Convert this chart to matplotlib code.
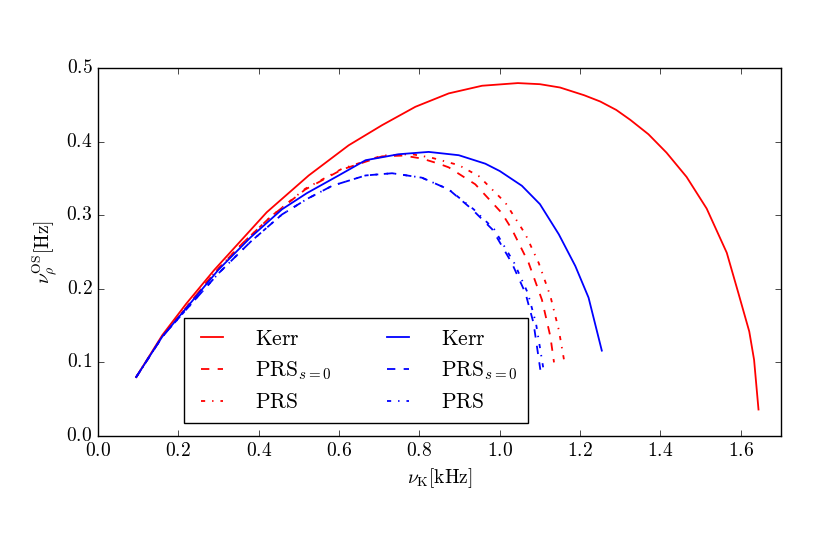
import matplotlib
matplotlib.use("Agg")
import matplotlib.pyplot as plt

plt.style.use("classic")
plt.rcParams["mathtext.fontset"] = "cm"
plt.rcParams["font.family"] = "serif"
plt.rcParams["font.serif"] = ["cmr10", "DejaVu Serif"]
plt.rcParams["axes.formatter.use_mathtext"] = True

# Kerr (red)
kerr_red_x = [0.095, 0.16, 0.22, 0.29, 0.35, 0.42, 0.5245, 0.624, 0.707, 0.79, 0.873, 0.956,
              1.045, 1.10, 1.15, 1.21, 1.25, 1.29, 1.325, 1.37, 1.415, 1.465,
              1.515, 1.565, 1.594, 1.621, 1.633, 1.644]
kerr_red_y = [0.080, 0.137, 0.180, 0.226, 0.262, 0.304, 0.354, 0.395, 0.4223, 0.4473, 0.4655,
              0.4759, 0.4795, 0.478, 0.4735, 0.463, 0.4545, 0.443, 0.4295, 0.410,
              0.385, 0.352, 0.309, 0.249, 0.194, 0.142, 0.1035, 0.036]
# PRS s=0 (red)
prs0_red_x = [0.095, 0.16, 0.22, 0.29, 0.36, 0.43, 0.516, 0.607, 0.707, 0.76, 0.806, 0.848,
              0.873, 0.939, 1.005, 1.03, 1.072, 1.105, 1.126, 1.135]
prs0_red_y = [0.080, 0.135, 0.175, 0.222, 0.262, 0.298, 0.335, 0.362, 0.380, 0.381, 0.377,
              0.370, 0.365, 0.342, 0.303, 0.281, 0.235, 0.185, 0.135, 0.100]
# PRS (red)
prs_red_x = [0.095, 0.16, 0.22, 0.29, 0.36, 0.43, 0.516, 0.607, 0.707, 0.78, 0.831, 0.898,
             0.948, 1.014, 1.064, 1.097, 1.126, 1.147, 1.161]
prs_red_y = [0.080, 0.135, 0.175, 0.222, 0.262, 0.298, 0.336, 0.363, 0.381, 0.383, 0.378,
             0.368, 0.353, 0.317, 0.274, 0.235, 0.190, 0.144, 0.100]
# Kerr (blue)
kerr_blue_x = [0.095, 0.16, 0.22, 0.30, 0.38, 0.458, 0.52, 0.599, 0.666, 0.748, 0.823,
               0.898, 0.964, 1.0, 1.055, 1.10, 1.147, 1.188, 1.221, 1.254]
kerr_blue_y = [0.080, 0.135, 0.174, 0.226, 0.270, 0.308, 0.330, 0.354, 0.3747, 0.3828, 0.386,
               0.3815, 0.370, 0.360, 0.340, 0.315, 0.274, 0.231, 0.188, 0.116]
# PRS s=0 (blue)
prs0_blue_x = [0.095, 0.16, 0.22, 0.30, 0.38, 0.458, 0.52, 0.583, 0.666, 0.732, 0.806, 0.873,
               0.931, 0.981, 1.03, 1.064, 1.084, 1.101]
prs0_blue_y = [0.080, 0.135, 0.172, 0.221, 0.264, 0.301, 0.322, 0.340, 0.354, 0.357, 0.351,
               0.335, 0.308, 0.281, 0.235, 0.194, 0.1535, 0.090]
# PRS (blue)
prs_blue_x = [0.095, 0.16, 0.22, 0.30, 0.38, 0.458, 0.52, 0.583, 0.666, 0.732, 0.806, 0.873,
              0.935, 0.986, 1.036, 1.070, 1.090, 1.109]
prs_blue_y = [0.080, 0.135, 0.172, 0.221, 0.264, 0.301, 0.322, 0.340, 0.354, 0.357, 0.351,
              0.335, 0.308, 0.281, 0.235, 0.194, 0.1535, 0.090]

labels = [r"$\mathrm{Kerr}$", r"$\mathrm{PRS}_{s=0}$", r"$\mathrm{PRS}$"]

fig = plt.figure(figsize=(8.3, 5.53), dpi=100, facecolor="white")
ax = fig.add_subplot(111)
fig.subplots_adjust(left=98/830, right=781/830, bottom=1-436/553, top=1-68/553)

lw = 1.3
ax.plot(kerr_red_x, kerr_red_y, "r-", lw=lw, label=labels[0])
ax.plot(prs0_red_x, prs0_red_y, "r--", lw=lw, label=labels[1])
ax.plot(prs_red_x, prs_red_y, "r-.", lw=lw, label=labels[2])
ax.plot(kerr_blue_x, kerr_blue_y, "b-", lw=lw, label=labels[0])
ax.plot(prs0_blue_x, prs0_blue_y, "b--", lw=lw, label=labels[1])
ax.plot(prs_blue_x, prs_blue_y, "b-.", lw=lw, label=labels[2])

ax.set_xlim(0, 1.7)
ax.set_ylim(0, 0.5)
ax.set_xticks([0.0, 0.2, 0.4, 0.6, 0.8, 1.0, 1.2, 1.4, 1.6])
ax.set_yticks([0.0, 0.1, 0.2, 0.3, 0.4, 0.5])
ax.tick_params(labelsize=14)
ax.set_xlabel(r"$\nu_{\rm K}[\rm kHz]$", fontsize=14)
ax.set_ylabel(r"$\nu_\rho^{\rm OS}[\rm Hz]$", fontsize=14)

ax.legend(loc="lower left", bbox_to_anchor=(0.126, 0.035), borderaxespad=0.0, ncol=2,
          fontsize=15.5, handlelength=1.6, handletextpad=1.2, columnspacing=2.3,
          labelspacing=0.5, borderpad=0.5, frameon=True, fancybox=False)

fig.savefig("out.png", dpi=100, facecolor="white")
